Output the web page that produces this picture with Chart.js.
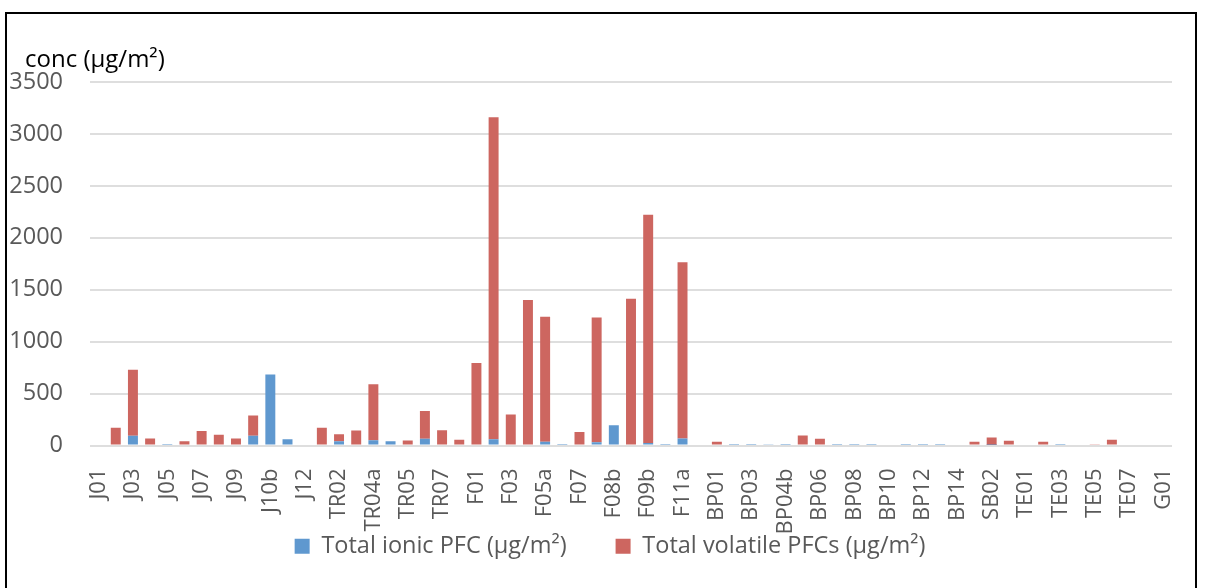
<!DOCTYPE html>
<html>
<head>
<meta charset="utf-8">
<script src="https://cdn.jsdelivr.net/npm/chart.js@4.4.0/dist/chart.umd.min.js"></script>
<style>
  html, body { margin: 0; padding: 0; background: #fff; }
  #wrap { position: relative; width: 1205px; height: 588px; overflow: hidden; }
  #frame { position: absolute; left: 5px; top: 12px; width: 1192px; height: 600px; border: 2px solid #000; box-sizing: border-box; pointer-events: none; }
  canvas { position: absolute; left: 0; top: 0; }
</style>
</head>
<body>
<div id="wrap">
  <canvas id="pfcChart" width="1205" height="588"></canvas>
  <div id="frame"></div>
</div>
<script>
const sites = ['J01', 'J02', 'J03', 'J04', 'J05', 'J06', 'J07', 'J08', 'J09', 'J10a', 'J10b', 'J11', 'J12',
    'TR01', 'TR02', 'TR03', 'TR04a', 'TR04b', 'TR05', 'TR06', 'TR07', 'TR08',
    'F01', 'F02', 'F03', 'F04', 'F05a', 'F05b', 'F07', 'F08a', 'F08b', 'F09a', 'F09b', 'F10', 'F11a', 'F11b',
    'BP01', 'BP02', 'BP03', 'BP04a', 'BP04b', 'BP05', 'BP06', 'BP07', 'BP08', 'BP09', 'BP10', 'BP11', 'BP12', 'BP13', 'BP14',
    'SB01', 'SB02', 'SB03', 'TE01', 'TE02', 'TE03', 'TE04', 'TE05', 'TE06', 'TE07', 'TE08', 'G01'];

const ionic = [0, 0, 95, 0, 4, 0, 10, 0, 0, 93, 683, 60, 0,
    0, 40, 0, 50, 40, 0, 64, 0, 0,
    0, 60, 0, 0, 35, 4, 0, 32, 194, 0, 25, 4, 67, 0,
    0, 4, 4, 8, 4, 0, 0, 4, 4, 4, 0, 4, 4, 4, 0,
    0, 5, 0, 0, 0, 4, 0, 0, 0, 0, 0, 0];

const volatile = [0, 170, 635, 67, 0, 40, 130, 103, 67, 195, 0, 0, 0,
    170, 68, 144, 540, 0, 48, 269, 147, 55,
    795, 3100, 298, 1400, 1205, 0, 131, 1201, 0, 1412, 2197, 0, 1698, 0,
    35, 0, 0, 0, 0, 97, 65, 0, 0, 0, 0, 0, 0, 0, 0,
    35, 72, 46, 0, 35, 0, 0, 8, 56, 0, 0, 0];

const yTicks = [0, 500, 1000, 1500, 2000, 2500, 3000, 3500];

const FONT = '"Open Sans", "Noto Sans", sans-serif';
const GREY = '#595959';

// axis caption drawn above the y axis
const unitTitle = {
    id: 'unitTitle',
    afterDraw(chart) {
        const c = chart.ctx;
        c.save();
        c.font = '24px ' + FONT;
        c.fillStyle = '#000';
        c.textBaseline = 'alphabetic';
        c.fillText('conc (µg/m²)', chart.chartArea.left - 65, chart.chartArea.top - 15);
        c.restore();
    }
};

new Chart(document.getElementById('pfcChart'), {
    type: 'bar',
    data: {
        labels: sites,
        datasets: [{
            label: 'Total ionic PFC (µg/m²)',
            data: ionic,
            backgroundColor: '#5f98cf',
            borderWidth: 0
        }, {
            label: 'Total volatile PFCs (µg/m²)',
            data: volatile,
            backgroundColor: '#cd6660',
            borderWidth: 0
        }]
    },
    options: {
        responsive: false,
        animation: false,
        layout: { padding: { left: 38, right: 23, top: 82, bottom: 20 } },
        datasets: { bar: { barPercentage: 0.58, categoryPercentage: 1 } },
        scales: {
            x: {
                stacked: true,
                afterFit: s => {
                    // the tall rotated labels may run past the axis box, down to the legend
                    s.height = 40;
                    s._computeLabelArea = () => undefined;
                },
                grid: { display: false },
                border: { display: false },
                ticks: {
                    autoSkip: false,
                    maxRotation: 90,
                    minRotation: 90,
                    padding: 15,
                    color: GREY,
                    font: { family: FONT, size: 22 },
                    callback: (v, i) => i % 2 === 0 ? sites[i] : ''
                }
            },
            y: {
                stacked: true,
                min: 0,
                max: 3500,
                afterBuildTicks: s => { s.ticks = yTicks.map(v => ({ value: v })); },
                afterFit: s => {
                    s.width = 52;
                    s._computeLabelArea = () => undefined;
                },
                grid: { color: '#dedede', lineWidth: 2, drawTicks: false },
                border: { display: false },
                ticks: {
                    padding: 27,
                    color: GREY,
                    font: { family: FONT, size: 23.5 },
                    callback: v => String(v)
                }
            }
        },
        plugins: {
            legend: {
                position: 'bottom',
                labels: {
                    boxWidth: 15,
                    boxHeight: 15,
                    padding: 49,
                    color: GREY,
                    font: { family: FONT, size: 23.5 }
                }
            },
            tooltip: { enabled: false }
        }
    },
    plugins: [unitTitle]
});
</script>
</body>
</html>
